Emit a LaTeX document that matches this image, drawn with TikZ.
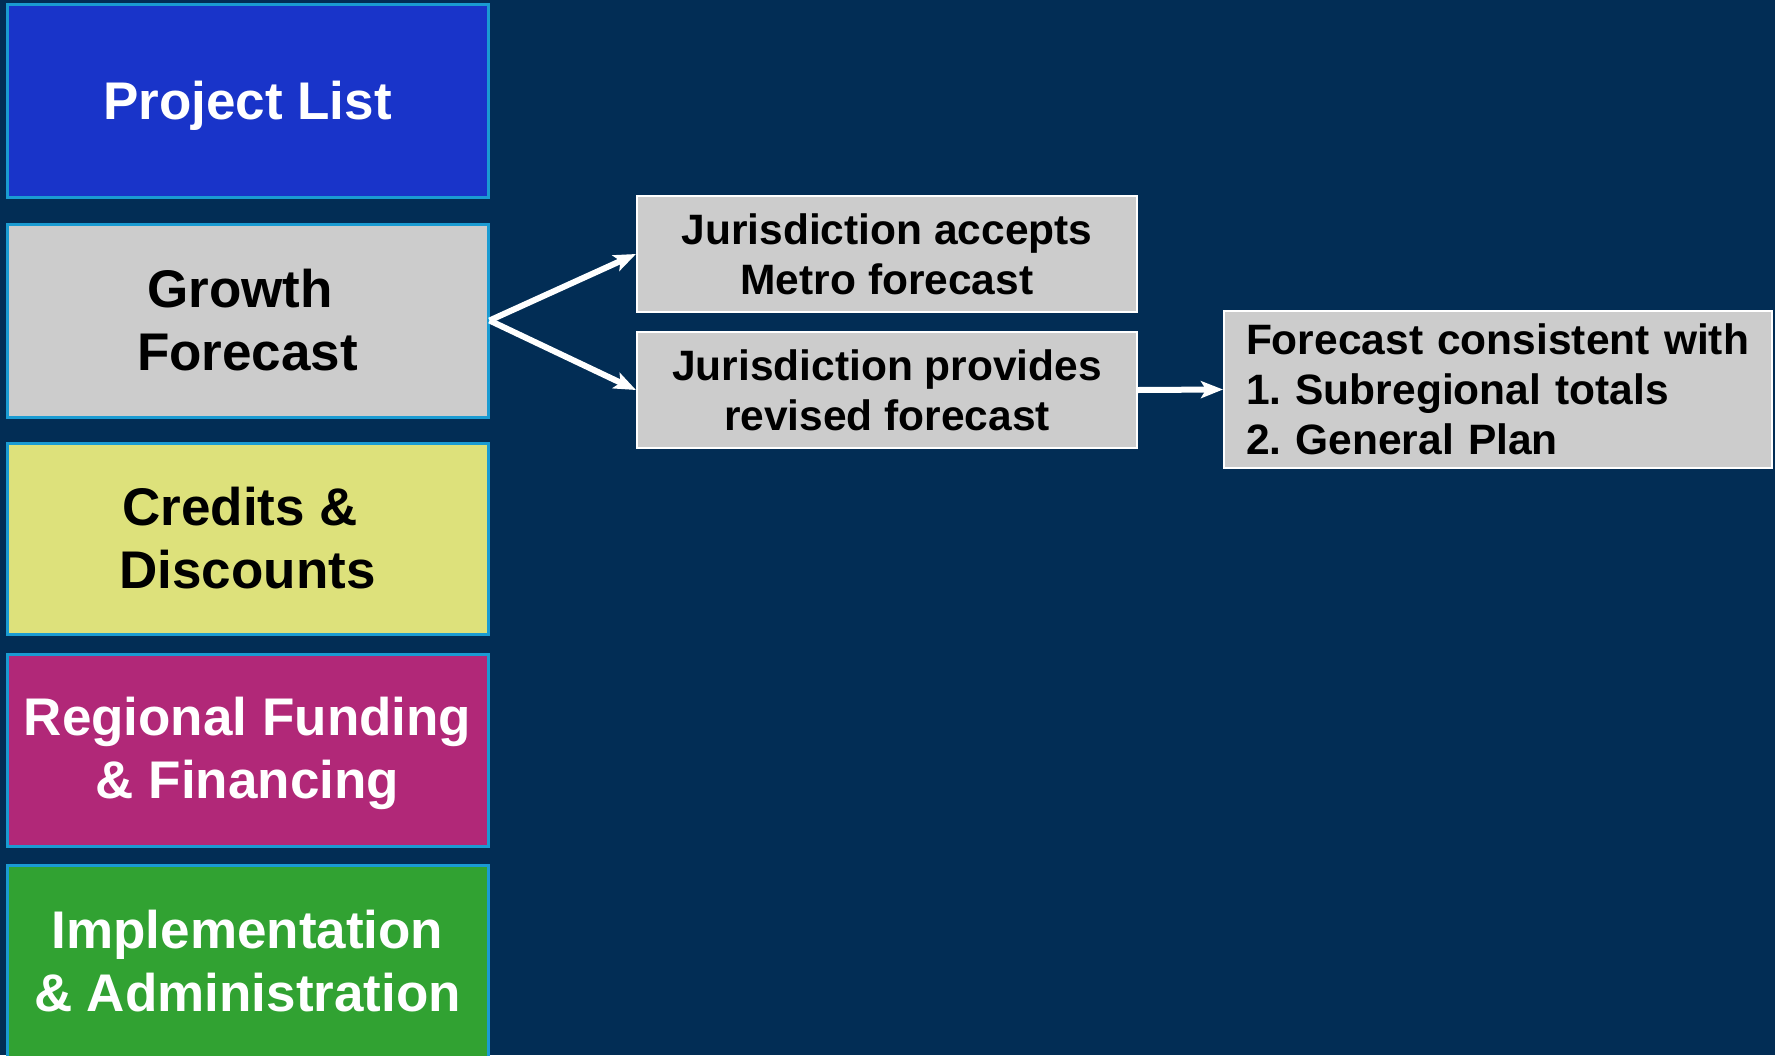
\documentclass[tikz,border=0pt]{standalone}
\usepackage{fontspec}
\setmainfont{Liberation Sans}
\usetikzlibrary{arrows.meta}
\definecolor{bgcol}{HTML}{022D55}
\definecolor{edgecol}{HTML}{1A9BD2}
\definecolor{pblue}{HTML}{1934C9}
\definecolor{pgray}{HTML}{CCCCCC}
\definecolor{pyellow}{HTML}{DDE17B}
\definecolor{pmagenta}{HTML}{B12878}
\definecolor{pgreen}{HTML}{31A232}
\tikzset{
  lbox/.style={draw=edgecol, line width=3pt, minimum width=481pt, inner sep=0pt,
    align=center, font=\fontsize{53}{63}\selectfont\bfseries},
  rbox/.style={draw=white, fill=pgray, line width=2pt, inner sep=0pt,
    font=\fontsize{42.5}{50}\selectfont\bfseries},
  arr/.style={draw=white, line width=6pt, -{Stealth[length=22pt,width=17pt,inset=5pt]}}
}
\frenchspacing
\begin{document}
\begin{tikzpicture}[x=1pt,y=-1pt]
\useasboundingbox (0,0) rectangle (1775,1055);
\clip (0,0) rectangle (1775,1055);
\fill[bgcol] (0,0) rectangle (1775,1055);
% left column
\node[lbox, fill=pblue, text=white, minimum height=193pt, text depth=0pt] (plist) at (247.5,100.5) {Project List};
\node[lbox, fill=pgray, text=black, minimum height=193pt] (growth) at (247.5,320.5) {Growth\hspace*{0.28em}\\Forecast};
\node[lbox, fill=pyellow, text=black, minimum height=191pt] (credits) at (247.5,538.5) {Credits \&\hspace*{0.28em}\\Discounts};
\node[lbox, fill=pmagenta, text=white, minimum height=192pt] (regional) at (247.5,750) {\rule{0pt}{45pt}Regional Funding\\\& Financing};
\node[lbox, fill=pgreen, text=white, minimum height=193pt] (impl) at (247.5,961.5) {Implementation\\\& Administration};
% middle column
\node[rbox, align=center, minimum width=500pt, minimum height=116pt] (accepts) at (887,254) {Jurisdiction accepts\\Metro forecast};
\node[rbox, align=center, minimum width=500pt, minimum height=116pt] (provides) at (887,390) {Jurisdiction provides\\revised forecast};
% right box
\node[rbox, align=left, text width=504pt, inner xsep=22pt, minimum height=157pt] (consistent) at (1498,389.5)
  {Forecast consistent with\\1. Subregional totals\\2. General Plan};
% connectors
\draw[arr] (growth.east) -- (accepts.west);
\draw[arr] (growth.east) -- (provides.west);
\draw[arr] (provides.east) -- (consistent.west);
\end{tikzpicture}
\end{document}
